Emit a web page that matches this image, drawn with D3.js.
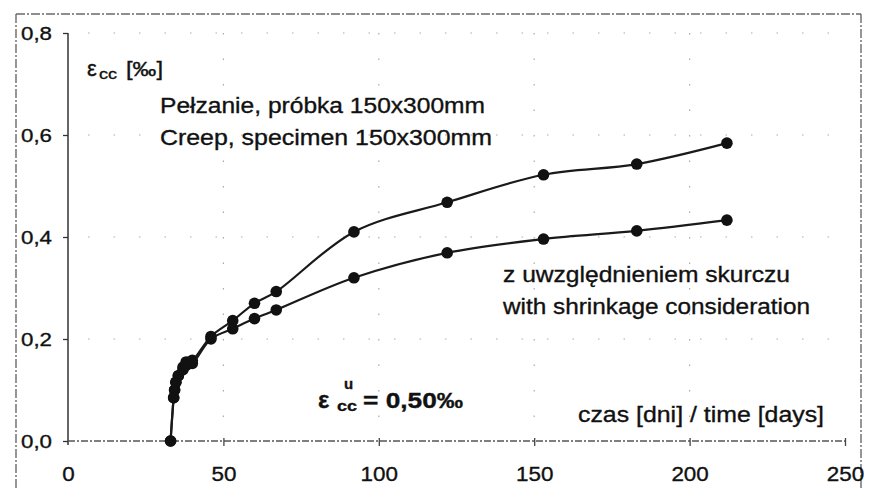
<!DOCTYPE html>
<html>
<head>
<meta charset="utf-8">
<script src="https://cdn.jsdelivr.net/npm/d3@7"></script>
<style>
  html, body { margin: 0; padding: 0; background: #fff; }
  svg { display: block; }
  text { font-family: "Liberation Sans", Arial, sans-serif; fill: #111; stroke: #111; stroke-width: 0.35px; }
</style>
</head>
<body>
<script>
// ---- data ----
const xTicks = [0, 50, 100, 150, 200, 250];
const xTickLabels = ["0", "50", "100", "150", "200", "250"];
const yTicks = [0, 0.2, 0.4, 0.6, 0.8];
const yTickLabels = ["0,0", "0,2", "0,4", "0,6", "0,8"];

const days        = [33, 34, 34.3, 34.7, 35.5, 37, 38, 40, 46, 53, 60, 67, 92, 122, 153, 183, 212];
const creep       = [0, 0.085, 0.100, 0.115, 0.128, 0.145, 0.155, 0.158, 0.205, 0.236, 0.270, 0.293, 0.410, 0.468, 0.522, 0.543, 0.584];
const creepShrink = [0, 0.085, 0.100, 0.115, 0.128, 0.140, 0.148, 0.152, 0.200, 0.220, 0.240, 0.257, 0.320, 0.369, 0.396, 0.412, 0.433];

const W = 877, H = 488;
const STRETCH = 1.12; // scanned text is horizontally wider than Arial

const svg = d3.select("body").append("svg").attr("width", W).attr("height", H);

const x = d3.scaleLinear().domain([0, 250]).range([68, 845]);
const y = d3.scaleLinear().domain([0, 0.8]).range([441, 33]);

function stretch(sel, target) {
  sel.each(function () {
    const w = this.getComputedTextLength();
    d3.select(this).attr("textLength", target ? target : w * STRETCH).attr("lengthAdjust", "spacingAndGlyphs");
  });
  return sel;
}

// outer (scanned) frame
const frame = svg.append("g").attr("fill", "none").attr("stroke", "#6a6a6a").attr("stroke-width", 1.4)
  .attr("stroke-dasharray", "9,2,2,2");
frame.append("line").attr("x1", 16).attr("x2", 861).attr("y1", 14).attr("y2", 14);
frame.append("line").attr("x1", 16).attr("x2", 16).attr("y1", 14).attr("y2", H);
frame.append("line").attr("x1", 861).attr("x2", 861).attr("y1", 14).attr("y2", H);

// faint dotted gridlines
const grid = svg.append("g").attr("stroke", "#aaa").attr("stroke-width", 1.2).attr("stroke-dasharray", "1.5,24");
grid.selectAll(".gy").data(yTicks.slice(1)).join("line")
  .attr("x1", x(0) + 20).attr("x2", x(250)).attr("y1", d => y(d)).attr("y2", d => y(d));
grid.selectAll(".gx").data(xTicks.slice(1, 5)).join("line")
  .attr("x1", d => x(d)).attr("x2", d => x(d)).attr("y1", y(0.8)).attr("y2", y(0));

// y axis
const yAxis = d3.axisLeft(y).tickValues(yTicks).tickSize(5).tickFormat((d, i) => yTickLabels[i]);
const gy = svg.append("g").attr("transform", `translate(${x(0)},0)`).call(yAxis);
gy.select(".domain").attr("stroke", "#333").attr("stroke-width", 1.5).attr("d", `M0,${y(0.8)}V${y(0) + 4}`);
gy.selectAll(".tick line").attr("stroke", "#333").attr("stroke-width", 1.3);
gy.selectAll(".tick text").attr("x", -16).attr("dy", "0.36em")
  .style("font-family", '"Liberation Sans", Arial, sans-serif').style("font-size", "19px").attr("fill", "#111");
stretch(gy.selectAll(".tick text"), 31);

// x axis
const xAxis = d3.axisBottom(x).tickValues(xTicks).tickSize(5).tickFormat((d, i) => xTickLabels[i]);
const gx = svg.append("g").attr("transform", `translate(0,${y(0)})`).call(xAxis);
gx.select(".domain").attr("stroke", "#555").attr("stroke-width", 1.3).attr("stroke-dasharray", "7,2,2,2")
  .attr("d", `M${x(0)},0H${x(250)}`);
gx.selectAll(".tick line").attr("stroke", "#444").attr("stroke-width", 1.3).attr("y1", -3).attr("y2", 5);
gx.selectAll(".tick text").attr("y", 40).attr("dy", "0")
  .style("font-family", '"Liberation Sans", Arial, sans-serif').style("font-size", "20px").attr("fill", "#111");
gx.selectAll(".tick").filter(d => d === 0).select("line").remove();
stretch(gx.selectAll(".tick text"));

// series
const line = d3.line().x(d => x(d[0])).y(d => y(d[1])).curve(d3.curveCatmullRom.alpha(0.5));
const seriesList = [creep, creepShrink];
seriesList.forEach(vals => {
  const pts = days.map((d, i) => [d, vals[i]]);
  svg.append("path").datum(pts).attr("d", line).attr("fill", "none")
    .attr("stroke", "#1a1a1a").attr("stroke-width", 2.2);
  svg.append("g").selectAll("circle").data(pts).join("circle")
    .attr("cx", d => x(d[0])).attr("cy", d => y(d[1])).attr("r", 5.8).attr("fill", "#111");
});

// annotations
const ann = svg.append("g");
ann.append("text").attr("x", 87).attr("y", 76).style("font-size", "22px").text("ε");
stretch(ann.append("text").attr("x", 99).attr("y", 79).style("font-size", "14px").text("cc"), 18);
stretch(ann.append("text").attr("x", 126).attr("y", 76).style("font-size", "20px").text("[‰]"), 37);

stretch(ann.append("text").attr("x", 160).attr("y", 113).style("font-size", "22px").text("Pełzanie, próbka 150x300mm"), 325);
stretch(ann.append("text").attr("x", 160).attr("y", 145).style("font-size", "22px").text("Creep, specimen 150x300mm"), 332);

stretch(ann.append("text").attr("x", 503).attr("y", 282).style("font-size", "22px").text("z uwzględnieniem skurczu"), 287);
stretch(ann.append("text").attr("x", 503).attr("y", 314).style("font-size", "22px").text("with shrinkage consideration"), 307);

stretch(ann.append("text").attr("x", 578).attr("y", 422).style("font-size", "22px").text("czas [dni] / time [days]"), 246);

ann.append("text").attr("x", 318).attr("y", 408).style("font-size", "24px").style("font-weight", "bold").text("ε");
stretch(ann.append("text").attr("x", 337).attr("y", 411).style("font-size", "15px").style("font-weight", "bold").text("cc"), 20);
ann.append("text").attr("x", 344).attr("y", 389).style("font-size", "15px").style("font-weight", "bold").text("u");
stretch(ann.append("text").attr("x", 363).attr("y", 408).style("font-size", "22px").style("font-weight", "bold").text("= 0,50‰"), 100);
</script>
</body>
</html>
